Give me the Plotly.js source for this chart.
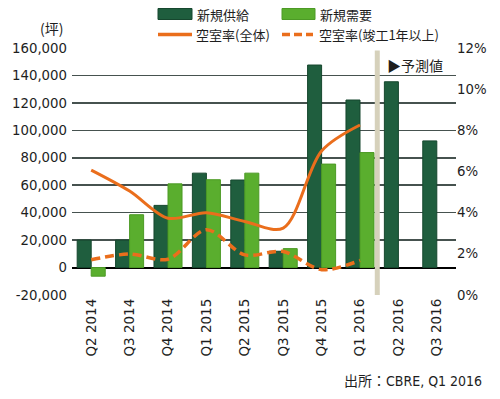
<!DOCTYPE html>
<html>
<head>
<meta charset="utf-8">
<script src="https://cdn.plot.ly/plotly-3.0.1.min.js"></script>
<style>html,body{margin:0;padding:0;background:#fff;}#chart{width:500px;height:399px;}</style>
</head>
<body>
<div id="chart"></div>
<script>
// ---- data ----
const quarters = ["Q2 2014","Q3 2014","Q4 2014","Q1 2015","Q2 2015","Q3 2015","Q4 2015","Q1 2016","Q2 2016","Q3 2016"];
const newSupply = [20000, 20000, 45300, 68800, 63800, 11900, 147600, 122100, 135400, 92300];
const newDemand = [-6300, 38500, 61000, 64000, 68800, 13800, 75400, 83800, null, null];
const vacancyAll = [6.07, 5.05, 3.73, 4.0, 3.57, 3.25, 7.0, 8.26];
const vacancyOld = [1.71, 1.99, 1.74, 3.17, 1.95, 2.11, 1.23, 1.68];
const leftTickVals = [-20000, 0, 20000, 40000, 60000, 80000, 100000, 120000, 140000, 160000];
const leftTickText = ["-20,000","0","20,000","40,000","60,000","80,000","100,000","120,000","140,000","160,000"];
const rightTickVals = [0, 2, 4, 6, 8, 10, 12];
const rightTickText = ["0%","2%","4%","6%","8%","10%","12%"];
const seriesNames = ["新規供給","新規需要","空室率(全体)","空室率(竣工1年以上)"];

const DARK = "#1f5e3e", LIGHT = "#5aae2e", ORANGE = "#ea6e1c";
const TXT = "#1e1e1e";
const NUMFONT = "DejaVu Sans";
const CJK = "Noto Sans CJK JP";

const traces = [
  {type:"bar", x: quarters, y: newSupply, name: seriesNames[0], marker:{color:DARK, line:{color:"#16472e", width:1}}, showlegend:false, hoverinfo:"skip"},
  {type:"bar", x: quarters, y: newDemand, name: seriesNames[1], marker:{color:LIGHT, line:{color:"#4c9a25", width:1}}, showlegend:false, hoverinfo:"skip"},
  {type:"scatter", mode:"lines", x: quarters.slice(0, vacancyAll.length), y: vacancyAll, yaxis:"y2", name: seriesNames[2],
   line:{color:ORANGE, width:3, shape:"spline", smoothing:0.9}, showlegend:false, hoverinfo:"skip"},
  {type:"scatter", mode:"lines", x: quarters.slice(0, vacancyOld.length), y: vacancyOld, yaxis:"y2", name: seriesNames[3],
   line:{color:ORANGE, width:3.5, shape:"spline", smoothing:0.9, dash:"9px,5px"}, showlegend:false, hoverinfo:"skip"}
];

const PH = 247, PW = 384, L = 72, T = 48;
const px = v => (v - L) / PW;
const py = v => (T + PH - v) / PH;

const R1 = 14, R2 = 34.5;

const layout = {
  width: 500, height: 399,
  margin: {l: L, r: 500 - L - PW, t: T, b: 399 - T - PH, pad: 0},
  paper_bgcolor: "#fff", plot_bgcolor: "#fff",
  barmode: "group", bargap: 0.27, bargroupgap: 0,
  showlegend: false,
  xaxis: {
    type: "category", range: [-0.5, 9.5], tickangle: -90, showgrid: false, zeroline: false, showline: false,
    ticks: "", tickfont: {family: NUMFONT, size: 13.5, color: TXT}, fixedrange: true
  },
  yaxis: {
    range: [-20000, 160000], tickvals: leftTickVals, ticktext: leftTickText,
    showgrid: true, gridcolor: "#46524f", gridwidth: 1.5,
    zeroline: true, zerolinecolor: "#000", zerolinewidth: 2,
    showline: false, ticks: "", ticklabelstandoff: 4,
    tickfont: {family: NUMFONT, size: 13.3, color: TXT}, fixedrange: true
  },
  yaxis2: {
    overlaying: "y", side: "right", range: [0, 12], tickvals: rightTickVals, ticktext: rightTickText,
    showgrid: false, zeroline: false, showline: false, ticks: "",
    tickfont: {family: NUMFONT, size: 13.3, color: TXT}, fixedrange: true
  },
  shapes: [
    // forecast divider
    {type:"line", xref:"x", yref:"paper", x0:7.45, x1:7.45, y0:0, y1:0.99, line:{color:"#d6d1bb", width:5}, layer:"above"},
    // legend swatches
    {type:"rect", xref:"paper", yref:"paper", x0:px(158), x1:px(192), y0:py(R1+5.5), y1:py(R1-5.5), fillcolor:DARK, line:{color:"#16472e", width:1}},
    {type:"rect", xref:"paper", yref:"paper", x0:px(282), x1:px(315), y0:py(R1+5.5), y1:py(R1-5.5), fillcolor:LIGHT, line:{color:"#4c9a25", width:1}},
    {type:"line", xref:"paper", yref:"paper", x0:px(158), x1:px(192), y0:py(R2), y1:py(R2), line:{color:ORANGE, width:3.5}},
    {type:"line", xref:"paper", yref:"paper", x0:px(282), x1:px(313), y0:py(R2), y1:py(R2), line:{color:ORANGE, width:3.5, dash:"8px,4px"}}
  ],
  annotations: [
    {xref:"paper", yref:"paper", x:px(195), y:py(R1), xanchor:"left", yanchor:"middle", showarrow:false, text:seriesNames[0], font:{family:CJK, size:13, color:TXT}},
    {xref:"paper", yref:"paper", x:px(318), y:py(R1), xanchor:"left", yanchor:"middle", showarrow:false, text:seriesNames[1], font:{family:CJK, size:13, color:TXT}},
    {xref:"paper", yref:"paper", x:px(194), y:py(R2), xanchor:"left", yanchor:"middle", showarrow:false, text:seriesNames[2], font:{family:CJK, size:13, color:TXT}},
    {xref:"paper", yref:"paper", x:px(317), y:py(R2), xanchor:"left", yanchor:"middle", showarrow:false, text:seriesNames[3], font:{family:CJK, size:13, color:TXT}},
    {xref:"paper", yref:"paper", x:px(51), y:py(28), xanchor:"center", yanchor:"middle", showarrow:false, text:"(坪)", font:{family:CJK, size:14, color:TXT}},
    {xref:"paper", yref:"paper", x:px(385), y:py(65), xanchor:"left", yanchor:"middle", showarrow:false, text:"▶予測値", font:{family:CJK, size:14, color:TXT}},
    {xref:"paper", yref:"paper", x:px(484), y:py(381), xanchor:"right", yanchor:"middle", showarrow:false, text:"出所：CBRE, Q1 2016", font:{family:"DejaVu Sans Condensed, Liberation Sans Narrow, " + CJK, size:14, color:TXT}}
  ]
};

Plotly.newPlot("chart", traces, layout, {displayModeBar:false, staticPlot:true});
</script>
</body>
</html>
